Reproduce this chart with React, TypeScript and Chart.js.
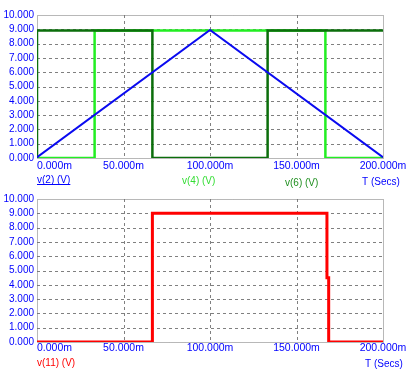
import React, { useEffect, useRef } from "react";
import { Chart, registerables } from "chart.js";

Chart.register(...registerables);

// ---- data ----
const xTicks = [0, 50, 100, 150, 200];
const xTickLabels = ["0.000m", "50.000m", "100.000m", "150.000m", "200.000m"];
const yTicks = [0, 1, 2, 3, 4, 5, 6, 7, 8, 9, 10];

const v2Time = [0, 100, 200];
const v2Vals = [0.05, 8.95, 0.05];

const v4Time = [0, 33.3, 33.3, 166.7, 166.7, 200];
const v4Vals = [0, 0, 8.92, 8.92, 0, 0];

const v6Time = [0, 0, 66.7, 66.7, 133.3, 133.3, 200];
const v6Vals = [0, 8.92, 8.92, 0, 0, 8.92, 8.92];

const v11Time = [0, 66.7, 66.7, 167.6, 167.6, 168.6, 168.6, 200];
const v11Vals = [0, 0, 9.0, 9.0, 4.5, 4.5, 0, 0];

const FONT = '"Liberation Sans", Arial, sans-serif';
const BLUE = "#0000ff";
const GRID = "#808080";

const pts = (t: number[], v: number[]) => t.map((x, i) => ({ x, y: v[i] }));

type Legend = { text: string; color: string; x: number; y: number; underline?: boolean };

function makePlugin(labelY: number, legends: Legend[]) {
  return {
    id: "scopeDecor",
    beforeDatasetsDraw(chart: any) {
      const { ctx, chartArea: a } = chart;
      const xs = chart.scales.x;
      const ys = chart.scales.y;
      ctx.save();
      ctx.strokeStyle = GRID;
      ctx.lineWidth = 1;
      // dashed grid
      ctx.setLineDash([3, 3]);
      xTicks.slice(1, -1).forEach((v) => {
        const px = Math.round(xs.getPixelForValue(v)) + 0.5;
        ctx.beginPath();
        ctx.moveTo(px, a.top);
        ctx.lineTo(px, a.bottom);
        ctx.stroke();
      });
      yTicks.slice(1, -1).forEach((v) => {
        const py = Math.round(ys.getPixelForValue(v)) + 0.5;
        ctx.beginPath();
        ctx.moveTo(a.left, py);
        ctx.lineTo(a.right, py);
        ctx.stroke();
      });
      // dotted frame
      ctx.strokeStyle = "#707070";
      ctx.setLineDash([1, 1]);
      ctx.strokeRect(Math.round(a.left) + 0.5, Math.round(a.top) + 0.5, Math.round(a.right - a.left), Math.round(a.bottom - a.top));
      ctx.restore();
    },
    afterDraw(chart: any) {
      const { ctx, chartArea: a } = chart;
      const xs = chart.scales.x;
      ctx.save();
      ctx.font = "10.5px " + FONT;
      ctx.fillStyle = BLUE;
      ctx.textBaseline = "middle";
      xTicks.forEach((v, i) => {
        const px = xs.getPixelForValue(v);
        if (i === 0) {
          ctx.textAlign = "left";
          ctx.fillText(xTickLabels[i], a.left, labelY);
        } else {
          ctx.textAlign = "center";
          ctx.fillText(xTickLabels[i], px, labelY);
        }
      });
      ctx.font = "10px " + FONT;
      ctx.textAlign = "left";
      legends.forEach((l) => {
        ctx.fillStyle = l.color;
        ctx.fillText(l.text, l.x, l.y);
        if (l.underline) {
          const w = ctx.measureText(l.text).width;
          ctx.strokeStyle = l.color;
          ctx.lineWidth = 1;
          ctx.beginPath();
          ctx.moveTo(l.x, l.y + 4.5);
          ctx.lineTo(l.x + w, l.y + 4.5);
          ctx.stroke();
        }
      });
      ctx.restore();
    },
  };
}

function baseOptions(padTop: number, padBottom: number) {
  return {
    responsive: false,
    animation: false as const,
    layout: { padding: { left: 0, right: 25, top: padTop, bottom: padBottom } },
    plugins: { legend: { display: false }, tooltip: { enabled: false } },
    elements: { point: { radius: 0 }, line: { tension: 0 } },
    scales: {
      x: {
        type: "linear" as const,
        min: 0,
        max: 200,
        ticks: { display: false, stepSize: 50 },
        grid: { display: false, drawTicks: false },
        border: { display: false },
        afterFit: (s: any) => {
          s.height = 0;
        },
      },
      y: {
        min: 0,
        max: 10,
        ticks: {
          stepSize: 1,
          autoSkip: false,
          color: BLUE,
          padding: 3,
          font: { family: FONT, size: 10 },
          callback: (v: any) => Number(v).toFixed(3),
        },
        grid: { display: false, drawTicks: false },
        border: { display: false },
        afterFit: (s: any) => {
          s.width = 37;
        },
      },
    },
  };
}

export default function App() {
  const topRef = useRef<HTMLCanvasElement>(null);
  const botRef = useRef<HTMLCanvasElement>(null);

  useEffect(() => {
    const topChart = new Chart(topRef.current!, {
      type: "line",
      data: {
        datasets: [
          { label: "v(2) (V)", data: pts(v2Time, v2Vals), borderColor: "#0a0af0", borderWidth: 2, fill: false },
          { label: "v(6) (V)", data: pts(v6Time, v6Vals), borderColor: "#0b6e0b", borderWidth: 2.5, fill: false },
          { label: "v(4) (V)", data: pts(v4Time, v4Vals), borderColor: "#22ee22", borderWidth: 2.5, fill: false },
        ],
      },
      options: baseOptions(15, 32),
      plugins: [
        makePlugin(166, [
          { text: "v(2) (V)", color: BLUE, x: 37, y: 180, underline: true },
          { text: "v(4) (V)", color: "#33dd33", x: 182, y: 181 },
          { text: "v(6) (V)", color: "#1f8f1f", x: 285, y: 183 },
          { text: "T (Secs)", color: BLUE, x: 362, y: 182 },
        ]),
      ],
    } as any);

    const botChart = new Chart(botRef.current!, {
      type: "line",
      data: {
        datasets: [
          { label: "v(11) (V)", data: pts(v11Time, v11Vals), borderColor: "#ff0000", borderWidth: 3, fill: false },
        ],
      },
      options: baseOptions(9, 33),
      plugins: [
        makePlugin(158, [
          { text: "v(11) (V)", color: "#ff0000", x: 37, y: 173 },
          { text: "T (Secs)", color: BLUE, x: 365, y: 174 },
        ]),
      ],
    } as any);

    return () => {
      topChart.destroy();
      botChart.destroy();
    };
  }, []);

  return (
    <div style={{ position: "absolute", left: 0, top: 0, width: 408, height: 375, background: "#fff" }}>
      <canvas ref={topRef} width={408} height={190} style={{ display: "block", width: 408, height: 190 }} />
      <canvas ref={botRef} width={408} height={185} style={{ display: "block", width: 408, height: 185 }} />
    </div>
  );
}
